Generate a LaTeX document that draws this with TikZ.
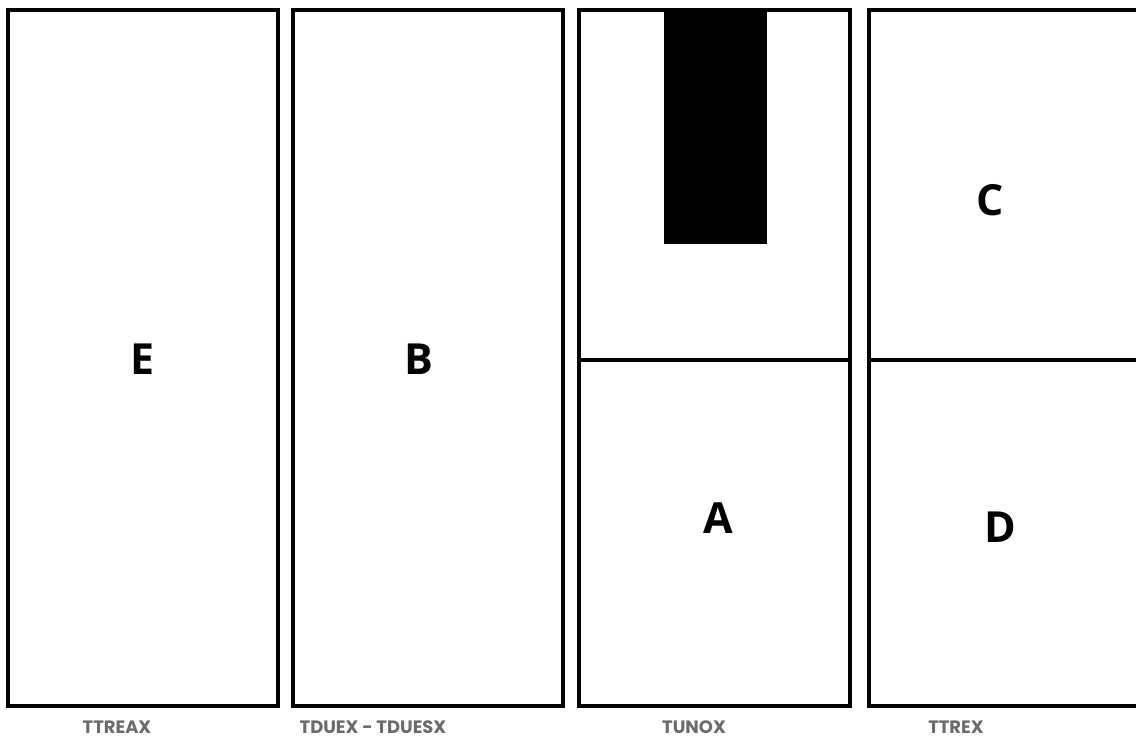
\documentclass[tikz,border=0pt]{standalone}
\usepackage{fontspec}
\newfontfamily\letterfont{Open Sans}
\newfontfamily\labelfont{Poppins}
\definecolor{labelgray}{HTML}{6B6B6B}
\begin{document}
\begin{tikzpicture}[x=1bp,y=-1bp,
  panel/.style={draw=black,line width=3.2bp,fill=white},
  divider/.style={draw=black,line width=3.2bp},
  letter/.style={font=\letterfont\bfseries\fontsize{43}{43}\selectfont,inner sep=0pt,anchor=center},
  caption/.style={font=\labelfont\bfseries\fontsize{18}{18}\selectfont,text=labelgray,inner sep=0pt,anchor=base}]
\useasboundingbox (0,0) rectangle (1136,738);
\clip (0,0) rectangle (1136,738);
\fill[white] (0,0) rectangle (1136,738);
% panels
\draw[panel] (8,10) rectangle (278,706);
\draw[panel] (293,10) rectangle (563,706);
\draw[panel] (579,10) rectangle (850,706);
\draw[panel] (869,10) rectangle (1140,706);
\coordinate (p3l) at (579,360);
\coordinate (p3r) at (850,360);
\coordinate (p4l) at (869,360);
\coordinate (p4r) at (1140,360);
\draw[divider] (p3l) -- (p3r);
\draw[divider] (p4l) -- (p4r);
% black block
\fill[black] (664,10) rectangle (767,244);
% letters
\node[letter] (E) at (142,359) {E};
\node[letter] (B) at (419,359) {B};
\node[letter] (A) at (718,518) {A};
\node[letter] (C) at (990,200) {C};
\node[letter] (D) at (1000,527) {D};
% captions
\node[caption] (l1) at (117,733.5) {TTREAX};
\node[caption] (l2) at (373,733.5) {TDUEX - TDUESX};
\node[caption] (l3) at (694,733.5) {TUNOX};
\node[caption] (l4) at (956,733.5) {TTREX};
\end{tikzpicture}
\end{document}
